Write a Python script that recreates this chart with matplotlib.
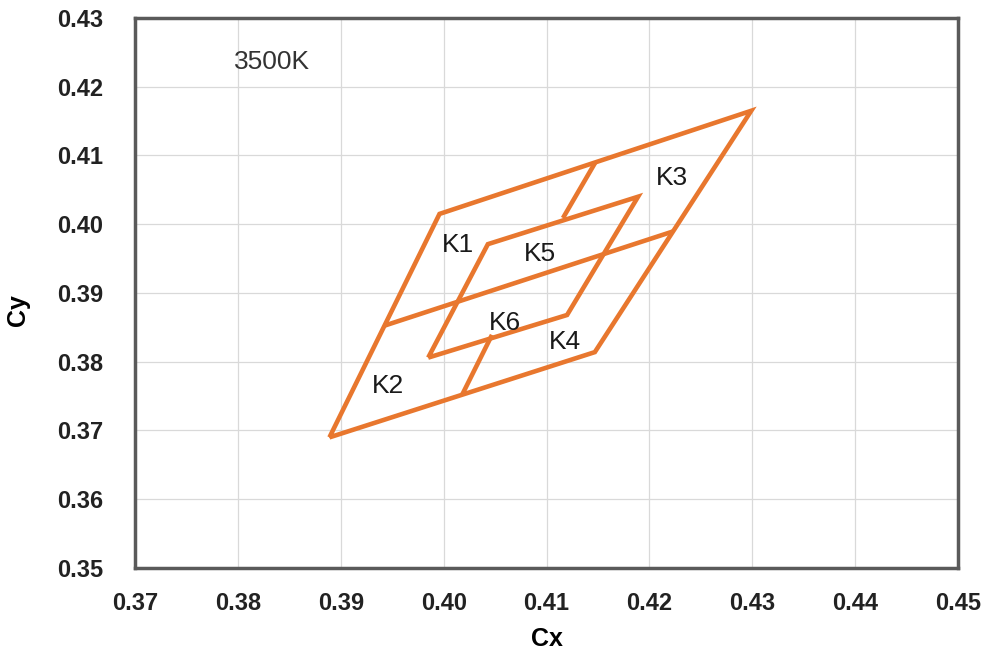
import matplotlib.pyplot as plt

plt.rcParams['font.family'] = ['Liberation Sans', 'DejaVu Sans']

# ANSI 3500K quadrangle and its K1..K6 sub-bins (CIE 1931 x, y)
outer_x = [0.3889, 0.3996, 0.4299, 0.4147, 0.3889]
outer_y = [0.3690, 0.4015, 0.4165, 0.3814, 0.3690]

inner_x = [0.3985, 0.4043, 0.4189, 0.4120, 0.3985]
inner_y = [0.3806, 0.3971, 0.4040, 0.3868, 0.3806]

mid_x = [0.39425, 0.4223]
mid_y = [0.38525, 0.39895]

top_link_x = [0.41475, 0.4116]
top_link_y = [0.4090, 0.4009]

bottom_link_x = [0.4047, 0.4018]
bottom_link_y = [0.3839, 0.3752]

bin_names = ['K1', 'K2', 'K3', 'K4', 'K5', 'K6']
bin_x = [0.4014, 0.3946, 0.4222, 0.4118, 0.4094, 0.4060]
bin_y = [0.3970, 0.3765, 0.4067, 0.3829, 0.3956, 0.3857]

x_ticks = [0.37, 0.38, 0.39, 0.40, 0.41, 0.42, 0.43, 0.44, 0.45]
y_ticks = [0.35, 0.36, 0.37, 0.38, 0.39, 0.40, 0.41, 0.42, 0.43]

line_color = '#E8772E'

fig = plt.figure(figsize=(9.87, 6.51), dpi=100)
ax = fig.add_axes([0.1368, 0.1275, 0.8338, 0.8449])

for xs, ys in [(outer_x, outer_y), (inner_x, inner_y), (mid_x, mid_y),
               (top_link_x, top_link_y), (bottom_link_x, bottom_link_y)]:
    ax.plot(xs, ys, color=line_color, lw=3.3, solid_joinstyle='miter',
            solid_capstyle='butt', zorder=3)

for name, bx, by in zip(bin_names, bin_x, bin_y):
    ax.text(bx, by, name, fontsize=19, ha='center', va='center', color='#1a1a1a', zorder=4)

ax.text(0.3833, 0.4236, '3500K', fontsize=19, ha='center', va='center', color='#333333')

ax.set_xlim(0.37, 0.45)
ax.set_ylim(0.35, 0.43)
ax.set_xticks(x_ticks)
ax.set_yticks(y_ticks)
ax.set_xticklabels([f'{v:.2f}' for v in x_ticks])
ax.set_yticklabels([f'{v:.2f}' for v in y_ticks])
ax.tick_params(length=0, labelsize=17)
ax.tick_params(axis='x', pad=17)
ax.tick_params(axis='y', pad=23)
for lbl in ax.get_xticklabels() + ax.get_yticklabels():
    lbl.set_fontweight('bold')
    lbl.set_color('#222222')

ax.grid(True, color='#d9d9d9', lw=0.9)
ax.set_axisbelow(True)
for sp in ax.spines.values():
    sp.set_color('#5a5a5a')
    sp.set_linewidth(2.5)

ax.set_xlabel('Cx', fontsize=18, fontweight='bold')
ax.set_ylabel('Cy', fontsize=18, fontweight='bold')
ax.xaxis.set_label_coords(0.5, -0.108)
ax.yaxis.set_label_coords(-0.128, 0.469)

fig.savefig('out.png', dpi=100)
